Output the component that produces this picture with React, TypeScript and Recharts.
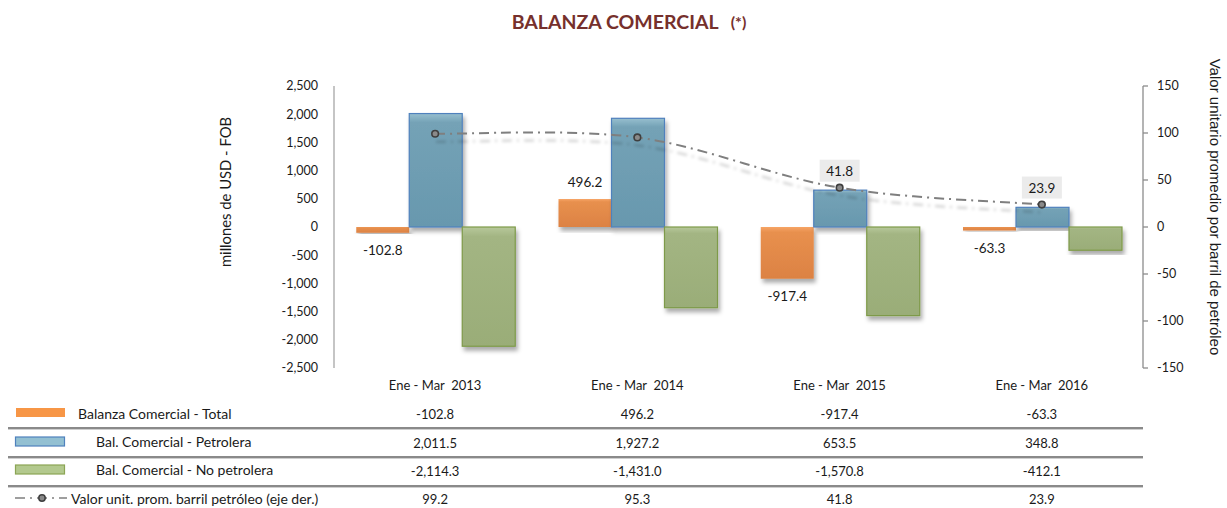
import React from 'react';
import { ComposedChart, Bar, Line, XAxis, YAxis, LabelList } from 'recharts';

const categories = ['Ene - Mar\u00A0 2013', 'Ene - Mar\u00A0 2014', 'Ene - Mar\u00A0 2015', 'Ene - Mar\u00A0 2016'];
const balanzaTotal = [-102.8, 496.2, -917.4, -63.3];
const balPetrolera = [2011.5, 1927.2, 653.5, 348.8];
const balNoPetrolera = [-2114.3, -1431.0, -1570.8, -412.1];
const valorBarril = [99.2, 95.3, 41.8, 23.9];
const valorBarrilLabeled = [false, false, true, true];
const leftTicks = [2500, 2000, 1500, 1000, 500, 0, -500, -1000, -1500, -2000, -2500];
const rightTicks = [150, 100, 50, 0, -50, -100, -150];
const seriesNames = [
  'Balanza Comercial - Total',
  'Bal. Comercial - Petrolera',
  'Bal. Comercial - No petrolera',
  'Valor unit. prom. barril petróleo (eje der.)',
];
const titleText = 'BALANZA COMERCIAL';
const titleNote = '(*)';
const leftAxisTitle = 'millones de USD - FOB';
const rightAxisTitle = 'Valor unitario promedio por barril de petróleo';

const data = categories.map((cat, i) => ({
  cat,
  total: balanzaTotal[i],
  petrolera: balPetrolera[i],
  noPetrolera: balNoPetrolera[i],
  barril: valorBarril[i],
}));
const tableRows = [balanzaTotal, balPetrolera, balNoPetrolera, valorBarril];

const FONT = 'Lato, "Open Sans", sans-serif';
const TEXT = '#1a1a1a';

function withCommas(s: string): string {
  return s.replace(/\B(?=(\d{3})+(?!\d))/g, ',');
}
function fmt(v: number): string {
  const neg = v < 0;
  const [ip, dp] = Math.abs(v).toFixed(1).split('.');
  return (neg ? '-' : '') + withCommas(ip) + '.' + dp;
}
function fmtTick(v: number): string {
  const neg = v < 0;
  return (neg ? '-' : '') + withCommas(String(Math.abs(v)));
}

// Excel-like smoothed line (Catmull-Rom style bezier)
const excelCurve = (context: any) => {
  let pts: number[][] = [];
  return {
    areaStart() {},
    areaEnd() {},
    lineStart() {
      pts = [];
    },
    point(x: number, y: number) {
      pts.push([+x, +y]);
    },
    lineEnd() {
      const n = pts.length;
      if (!n) return;
      context.moveTo(pts[0][0], pts[0][1]);
      for (let i = 0; i < n - 1; i++) {
        const p0 = pts[Math.max(0, i - 1)];
        const p1 = pts[i];
        const p2 = pts[i + 1];
        const p3 = pts[Math.min(n - 1, i + 2)];
        context.bezierCurveTo(
          p1[0] + (p2[0] - p0[0]) / 6,
          p1[1] + (p2[1] - p0[1]) / 6,
          p2[0] - (p3[0] - p1[0]) / 6,
          p2[1] - (p3[1] - p1[1]) / 6,
          p2[0],
          p2[1]
        );
      }
    },
  };
};

const rowOffsets = [46, 74.5, 102.5, 131];

const TableTick = (props: any) => {
  const { x, y, payload } = props;
  const i = categories.indexOf(payload.value);
  return (
    <g fontFamily={FONT} fontSize={13} fill={TEXT}>
      <text x={x} y={y + 17} textAnchor="middle" dominantBaseline="central" fill={TEXT}>
        {payload.value}
      </text>
      {tableRows.map((row, k) => (
        <text key={k} x={x} y={y + rowOffsets[k]} textAnchor="middle" dominantBaseline="central" fill={TEXT}>
          {fmt(row[i])}
        </text>
      ))}
    </g>
  );
};

const makeShape = (gradId: string, stroke?: string) => (props: any) => {
  let { x, y, width, height } = props;
  if (height < 0) {
    y = y + height;
    height = -height;
  }
  return (
    <rect
      x={x}
      y={y}
      width={width}
      height={height}
      fill={`url(#${gradId})`}
      stroke={stroke || 'none'}
      strokeWidth={stroke ? 1.2 : 0}
      filter="url(#barShadow)"
    />
  );
};

const TotalLabel = (props: any) => {
  const { x, y, width, height, value } = props;
  const top = Math.min(y, y + height);
  const bottom = Math.max(y, y + height);
  const cx = x + width / 2;
  const ty = value >= 0 ? top - 17 : bottom + 17;
  return (
    <text x={cx} y={ty} textAnchor="middle" dominantBaseline="central" fontFamily={FONT} fontSize={13.5} fill={TEXT}>
      {fmt(value)}
    </text>
  );
};

const BarrilLabel = (props: any) => {
  const { x, y, value, index } = props;
  if (!valorBarrilLabeled[index]) return null;
  return (
    <g>
      <rect x={x - 20} y={y - 28} width={40} height={22} fill="#ebebeb" />
      <text x={x} y={y - 16.5} textAnchor="middle" dominantBaseline="central" fontFamily={FONT} fontSize={13.5} fill={TEXT}>
        {fmt(value)}
      </text>
    </g>
  );
};

const BarrilDot = (props: any) => {
  const { cx, cy } = props;
  return <circle cx={cx} cy={cy} r={3.3} fill="#8a8a8a" stroke="#3f3f3f" strokeWidth={1.6} />;
};

export default function App() {
  return (
    <div style={{ position: 'absolute', left: 0, top: 0, width: 1227, height: 508, background: '#fff' }}>
      <div style={{ position: 'absolute', left: 0, top: 0 }}>
        <ComposedChart
          width={1227}
          height={508}
          data={data}
          margin={{ top: 86, right: 34, bottom: 110, left: 274 }}
          barGap={0}
          barCategoryGap="11%"
        >
          <defs>
            <filter id="barShadow" x="-20%" y="-20%" width="140%" height="140%">
              <feDropShadow dx={2} dy={4} stdDeviation={2} floodColor="#000" floodOpacity={0.33} />
            </filter>
            <filter id="lineShadow" x="-10%" y="-50%" width="120%" height="200%">
              <feDropShadow dx={1} dy={8} stdDeviation={1.6} floodColor="#000" floodOpacity={0.2} />
            </filter>
            <linearGradient id="gOrange" x1="0" y1="0" x2="0" y2="1">
              <stop offset="0%" stopColor="#f7a566" />
              <stop offset="10%" stopColor="#e8904e" />
              <stop offset="100%" stopColor="#dc8243" />
            </linearGradient>
            <linearGradient id="gBlue" x1="0" y1="0" x2="0" y2="1">
              <stop offset="0%" stopColor="#97bfcf" />
              <stop offset="8%" stopColor="#74a2b6" />
              <stop offset="100%" stopColor="#6898ae" />
            </linearGradient>
            <linearGradient id="gGreen" x1="0" y1="0" x2="0" y2="1">
              <stop offset="0%" stopColor="#b7c89b" />
              <stop offset="8%" stopColor="#a3b583" />
              <stop offset="100%" stopColor="#9aad78" />
            </linearGradient>
          </defs>
          <XAxis
            dataKey="cat"
            axisLine={false}
            tickLine={false}
            tickSize={0}
            tickMargin={0}
            interval={0}
            height={30}
            tick={<TableTick />}
          />
          <YAxis
            yAxisId="left"
            orientation="left"
            width={60}
            domain={[-2500, 2500]}
            ticks={leftTicks}
            tickFormatter={fmtTick}
            axisLine={{ stroke: '#a6a6a6', strokeWidth: 1.3 }}
            tickLine={false}
            tickSize={0}
            tickMargin={16}
            tick={{ fontFamily: FONT, fontSize: 12.5, fill: TEXT }}
            allowDataOverflow
          />
          <YAxis
            yAxisId="right"
            orientation="right"
            width={50}
            domain={[-150, 150]}
            ticks={rightTicks}
            axisLine={{ stroke: '#8c8c8c', strokeWidth: 1.3 }}
            tickLine={{ stroke: '#8c8c8c', strokeWidth: 1.3 }}
            tickSize={5}
            tickMargin={9}
            tick={{ fontFamily: FONT, fontSize: 12.5, fill: TEXT, textAnchor: 'start' }}
            allowDataOverflow
          />
          <Bar yAxisId="left" dataKey="total" isAnimationActive={false} shape={makeShape('gOrange')}>
            <LabelList dataKey="total" content={<TotalLabel />} />
          </Bar>
          <Bar yAxisId="left" dataKey="petrolera" isAnimationActive={false} shape={makeShape('gBlue', '#4f81bd')} />
          <Bar yAxisId="left" dataKey="noPetrolera" isAnimationActive={false} shape={makeShape('gGreen', '#7e9a48')} />
          <Line
            yAxisId="right"
            type={excelCurve as any}
            dataKey="barril"
            stroke="#7f7f7f"
            strokeWidth={2}
            strokeDasharray="10 5 2 5"
            dot={<BarrilDot />}
            activeDot={false}
            filter="url(#lineShadow)"
            isAnimationActive={false}
          >
            <LabelList dataKey="barril" content={<BarrilLabel />} />
          </Line>
        </ComposedChart>
      </div>
      <svg
        width={1227}
        height={508}
        style={{ position: 'absolute', left: 0, top: 0, pointerEvents: 'none' }}
        fontFamily={FONT}
      >
        <text x={629} y={21} textAnchor="middle" dominantBaseline="central" fill="#76302c" fontWeight={700}>
          <tspan fontSize={19.5}>{titleText}</tspan>
          <tspan fontSize={16} dx={12}>{titleNote}</tspan>
        </text>
        <text
          x={225}
          y={192}
          transform="rotate(-90 225 192)"
          textAnchor="middle"
          dominantBaseline="central"
          fontSize={14.8}
          fill={TEXT}
        >
          {leftAxisTitle}
        </text>
        <text
          x={1215}
          y={207}
          transform="rotate(90 1215 207)"
          textAnchor="middle"
          dominantBaseline="central"
          fontSize={15}
          fontFamily='"Liberation Sans", Arial, sans-serif'
          fill={TEXT}
        >
          {rightAxisTitle}
        </text>
        {[428, 457, 486].map((ly) => (
          <g key={ly}>
            <line x1={8} x2={1143} y1={ly} y2={ly} stroke="#8a8a8a" strokeWidth={2} />
            <line x1={8} x2={1143} y1={ly + 1.5} y2={ly + 1.5} stroke="#cfcfcf" strokeWidth={1} />
          </g>
        ))}
        <rect x={16} y={408} width={49} height={9} fill="#f79646" />
        <rect x={15.5} y={437} width={49} height={9} fill="#93c0d2" stroke="#4f81bd" strokeWidth={1.2} />
        <rect x={15.5} y={465} width={49} height={9} fill="#b3c98e" stroke="#8ba554" strokeWidth={1.2} />
        <line x1={15} x2={67} y1={498} y2={498} stroke="#7f7f7f" strokeWidth={1.5} strokeDasharray="10 5 2 5" />
        <circle cx={42} cy={498} r={3.2} fill="#8a8a8a" stroke="#3f3f3f" strokeWidth={1.5} />
        <text x={78} y={413} dominantBaseline="central" fontSize={14} fill={TEXT}>{seriesNames[0]}</text>
        <text x={96} y={441} dominantBaseline="central" fontSize={14} fill={TEXT}>{seriesNames[1]}</text>
        <text x={96} y={469.5} dominantBaseline="central" fontSize={14} fill={TEXT}>{seriesNames[2]}</text>
        <text x={71} y={498} dominantBaseline="central" fontSize={14} fill={TEXT}>{seriesNames[3]}</text>
      </svg>
    </div>
  );
}
